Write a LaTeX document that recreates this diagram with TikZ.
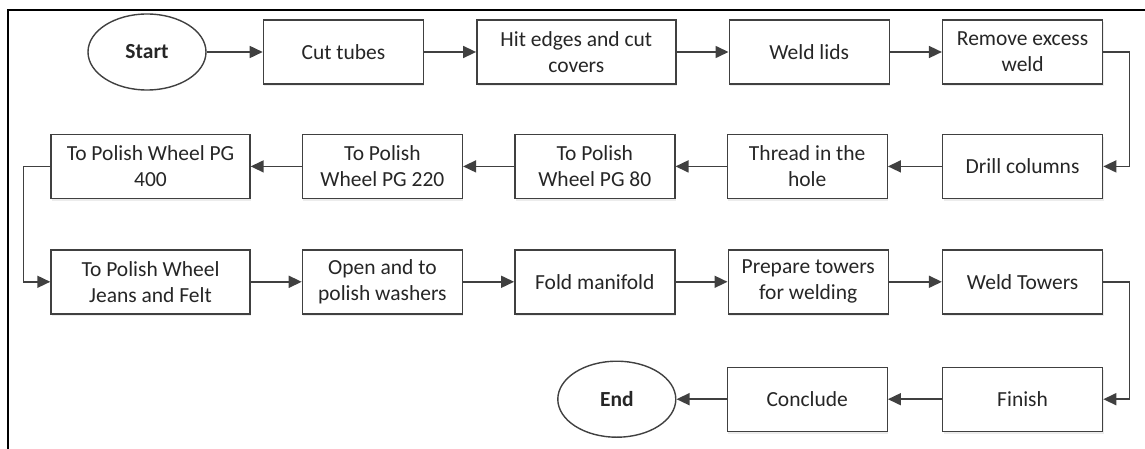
\documentclass[tikz,border=0pt]{standalone}
\usepackage{fontspec}
\setmainfont{Carlito}
\usetikzlibrary{arrows.meta, positioning, shapes.geometric, shadows}

\begin{document}
\begin{tikzpicture}[x=1pt, y=1pt, font=\fontsize{21.5}{26}\selectfont]

	\tikzset{
		stepbox/.style={
				rectangle, draw=black!75, line width=1.4pt, fill=white, text=black!85, align=center,
				minimum width=160pt, minimum height=64pt, inner sep=2pt,
				drop shadow={opacity=0.15, shadow xshift=1pt, shadow yshift=-2.5pt}
			},
		widebox/.style={
				stepbox, minimum width=199pt
			},
		terminal/.style={
				ellipse, draw=black!75, line width=1.4pt, fill=white, text=black!85,
				minimum width=118pt, minimum height=76pt, inner sep=0pt, font=\fontsize{21.5}{26}\selectfont\bfseries
			},
		flow/.style={
				draw=black!75, line width=1.6pt, -{Triangle[length=13pt, width=12pt]}
			},
	}

	\useasboundingbox (0,0) rectangle (1145,-449);
	\draw[line width=1.8pt] (1145,-10) -- (8,-10) -- (8,-449);

	\node[terminal] (start) at (147,-52) {Start};
	\node[stepbox, right=56pt of start] (cut) {Cut tubes};
	\node[widebox, right=52pt of cut] (hit) {Hit edges and cut\\covers};
	\node[stepbox, right=52pt of hit] (lids) {Weld lids};
	\node[stepbox, right=52pt of lids] (excess) {Remove excess\\weld};

	\node[stepbox, below=49pt of excess] (drill) {Drill columns};
	\node[stepbox, left=54pt of drill] (thread) {Thread in the\\hole};
	\node[stepbox, left=51pt of thread] (pg80) {To Polish\\Wheel PG 80};
	\node[stepbox, left=51pt of pg80] (pg220) {To Polish\\Wheel PG 220};
	\node[widebox, left=51pt of pg220] (pg400) {To Polish Wheel PG\\400};

	\node[widebox, below=50pt of pg400] (jeans) {To Polish Wheel\\Jeans and Felt};
	\node[stepbox, right=51pt of jeans] (washers) {Open and to\\polish washers};
	\node[stepbox, right=51pt of washers] (manifold) {Fold manifold};
	\node[stepbox, right=52pt of manifold] (towers) {Prepare towers\\for welding};
	\node[stepbox, right=53pt of towers] (weldtw) {Weld Towers};

	\node[stepbox, below=52pt of weldtw] (finish) {Finish};
	\node[stepbox, left=54pt of finish] (conclude) {Conclude};
	\node[terminal, left=50pt of conclude] (end) {End};

	\draw[flow] (start) -- (cut);
	\draw[flow] (cut) -- (hit);
	\draw[flow] (hit) -- (lids);
	\draw[flow] (lids) -- (excess);
	\draw[flow] (excess.east) -- ++(26,0) |- (drill.east);

	\draw[flow] (drill) -- (thread);
	\draw[flow] (thread) -- (pg80);
	\draw[flow] (pg80) -- (pg220);
	\draw[flow] (pg220) -- (pg400);
	\draw[flow] (pg400.west) -- ++(-27,0) |- (jeans.west);

	\draw[flow] (jeans) -- (washers);
	\draw[flow] (washers) -- (manifold);
	\draw[flow] (manifold) -- (towers);
	\draw[flow] (towers) -- (weldtw);
	\draw[flow] (weldtw.east) -- ++(26,0) |- (finish.east);

	\draw[flow] (finish) -- (conclude);
	\draw[flow] (conclude) -- (end);
\end{tikzpicture}
\end{document}
